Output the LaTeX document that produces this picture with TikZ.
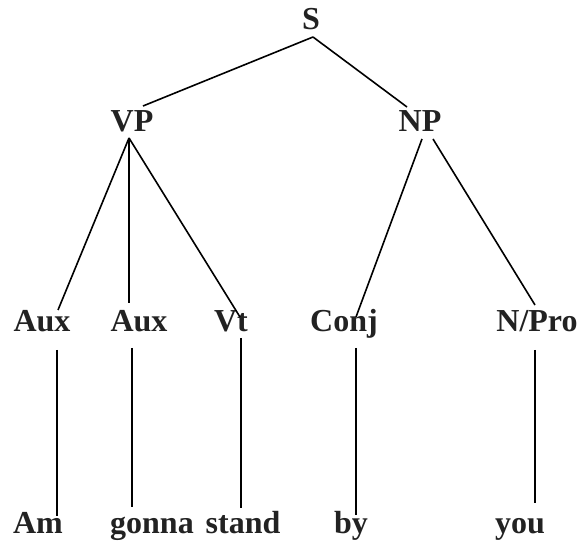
\documentclass[tikz,border=0pt]{standalone}
\usepackage{fontspec}
\setmainfont{Liberation Serif}
\usepackage{tikz}
\usetikzlibrary{positioning}
\definecolor{treeink}{RGB}{34,34,34}

\begin{document}
\begin{tikzpicture}[x=0.5pt,y=-0.5pt,
  every node/.style={inner sep=0pt}]
  \tikzset{
    cat/.style={anchor=base,text=treeink,
      font=\fontsize{16}{19}\selectfont\bfseries},
    word/.style={cat},
    branch/.style={line width=0.8pt,draw=black}
  }
  \useasboundingbox (0,0) rectangle (579,545);

  % root and phrases
  \node[cat] (s) at (311,30) {S};
  \node[cat] (vp) at (132,132) {VP};
  \node[cat] (np) at (420,132) {NP};
  \draw[branch] ([shift={(2,7)}]s.base) -- ([shift={(11,-26)}]vp.base);
  \draw[branch] ([shift={(2,7)}]s.base) -- ([shift={(-13,-25)}]np.base);

  % preterminals
  \node[cat] (aux-a) at (42,332) {Aux};
  \node[cat] (aux-b) at (139,332) {Aux};
  \node[cat] (vt) at (231,332) {Vt};
  \node[cat] (conj) at (344,332) {Conj};
  \node[cat] (npro) at (537,332) {N/Pro};
  \draw[branch] ([shift={(-3,6)}]vp.base) -- ([shift={(16,-22)}]aux-a.base);
  \draw[branch] ([shift={(-3,6)}]vp.base) -- ([shift={(-10,-29)}]aux-b.base);
  \draw[branch] ([shift={(-3,6)}]vp.base) -- ([shift={(9,-15)}]vt.base);
  \draw[branch] ([shift={(2,7)}]np.base) -- ([shift={(12,-15)}]conj.base);
  \draw[branch] ([shift={(13,7)}]np.base) -- ([shift={(-2,-27)}]npro.base);

  % words
  \node[word] (am) at (38,533) {Am};
  \node[word] (gonna) at (152,533) {gonna};
  \node[word] (stand) at (243,533) {stand};
  \node[word] (by) at (351,533) {by};
  \node[word] (you) at (520,533) {you};
  \draw[branch] ([shift={(15,18)}]aux-a.base) -- ([shift={(19,-17)}]am.base);
  \draw[branch] ([shift={(-7,16)}]aux-b.base) -- ([shift={(-20,-26)}]gonna.base);
  \draw[branch] ([shift={(10,6)}]vt.base) -- ([shift={(-2,-25)}]stand.base);
  \draw[branch] ([shift={(12,16)}]conj.base) -- ([shift={(5,-18)}]by.base);
  \draw[branch] ([shift={(-2,18)}]npro.base) -- ([shift={(15,-30)}]you.base);
\end{tikzpicture}
\end{document}
